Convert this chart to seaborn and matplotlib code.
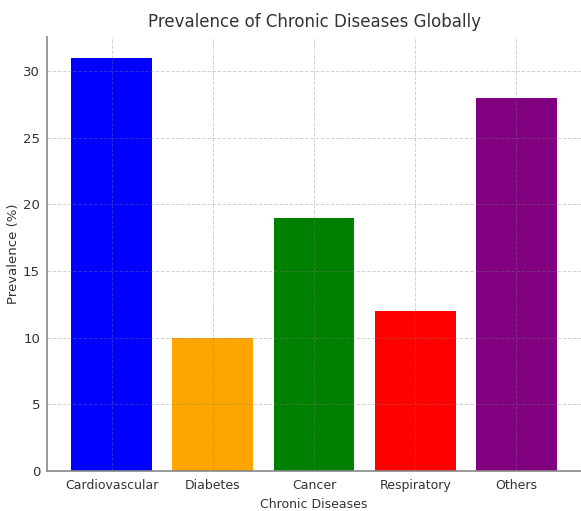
import matplotlib
matplotlib.use("Agg")
import matplotlib.pyplot as plt
import seaborn as sns
import pandas as pd

diseases = ["Cardiovascular", "Diabetes", "Cancer", "Respiratory", "Others"]
prevalence = [31, 10, 19, 12, 28]
bar_colors = ["blue", "orange", "green", "red", "purple"]

df = pd.DataFrame({"disease": diseases, "prevalence": prevalence})

sns.set_style("white")
plt.rcParams["font.family"] = ["DejaVu Sans"]

fig = plt.figure(figsize=(5.81, 5.11), dpi=100)
ax = fig.add_axes([47 / 581, 40 / 511, 534 / 581, 434 / 511])

sns.barplot(data=df, x="disease", y="prevalence", hue="disease",
            palette=bar_colors, width=0.8, saturation=1, legend=False,
            linewidth=0, ax=ax)
ax.set_xlim(-0.64, 4.64)
ax.set_ylim(0, 32.55)

# grid drawn over the bars, like the reference
ax.set_axisbelow(False)
ax.grid(True, linestyle="--", color="gray", alpha=0.35, linewidth=0.7)

for s in ["top", "right"]:
    ax.spines[s].set_visible(False)
for s in ["left", "bottom"]:
    ax.spines[s].set_color("#888888")
    ax.spines[s].set_linewidth(1.2)

ax.tick_params(axis="both", color="#888888", labelcolor="#333333",
               labelsize=9, length=3, pad=3)
ax.tick_params(axis="y", labelsize=9.5, pad=2)

ax.set_title("Prevalence of Chronic Diseases Globally", fontsize=12,
             color="#333333", pad=7)
ax.set_xlabel("Chronic Diseases", fontsize=9, color="#333333", labelpad=4)
ax.set_ylabel("Prevalence (%)", fontsize=9.5, color="#333333")
ax.yaxis.set_label_coords(-0.05, 0.5)

fig.savefig("out.png", dpi=100)
